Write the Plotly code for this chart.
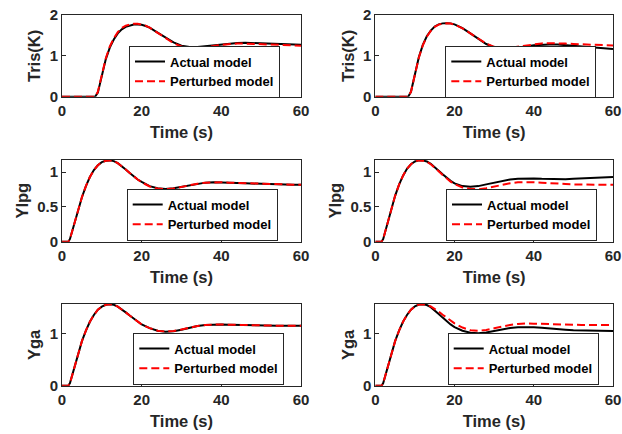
import plotly.graph_objects as go

# ---------------- data ----------------
t_tris = [0, 8.3, 9, 10, 11, 12, 13, 14, 15, 16, 17, 18, 19, 20, 21, 22, 24, 26, 28, 30,
          32, 34, 36, 38, 40, 42, 44, 46, 48, 50, 52, 54, 56, 58, 60]
t_y = [0, 1.6, 2, 3, 4, 5, 6, 7, 8, 9, 10, 11, 12, 13, 14, 15, 16, 17, 18, 19, 20,
       22, 24, 26, 28, 30, 32, 34, 36, 38, 40, 42, 44, 46, 48, 50, 52, 54, 56, 58, 60]

tris_act_L = [0, 0, 0.10, 0.48, 0.92, 1.20, 1.40, 1.55, 1.65, 1.71, 1.745, 1.765, 1.77, 1.76,
              1.73, 1.69, 1.57, 1.44, 1.33, 1.25, 1.215, 1.215, 1.235, 1.26, 1.285, 1.305,
              1.315, 1.32, 1.315, 1.305, 1.295, 1.285, 1.28, 1.275, 1.27]
tris_per_L = [0, 0, 0.12, 0.50, 0.94, 1.23, 1.43, 1.58, 1.68, 1.74, 1.77, 1.785, 1.785, 1.77,
              1.74, 1.69, 1.56, 1.42, 1.31, 1.23, 1.19, 1.19, 1.21, 1.24, 1.27, 1.29,
              1.30, 1.30, 1.295, 1.285, 1.275, 1.265, 1.26, 1.255, 1.25]
tris_act_R = [0, 0, 0.12, 0.52, 0.97, 1.27, 1.48, 1.62, 1.72, 1.77, 1.795, 1.80, 1.795, 1.77,
              1.73, 1.68, 1.55, 1.41, 1.29, 1.21, 1.175, 1.18, 1.20, 1.23, 1.26, 1.275,
              1.28, 1.28, 1.265, 1.245, 1.225, 1.21, 1.195, 1.18, 1.17]
tris_per_R = [0, 0, 0.12, 0.52, 0.96, 1.26, 1.47, 1.61, 1.71, 1.765, 1.79, 1.795, 1.79, 1.765,
              1.725, 1.675, 1.55, 1.415, 1.30, 1.22, 1.19, 1.195, 1.22, 1.255, 1.285, 1.305,
              1.31, 1.31, 1.30, 1.29, 1.28, 1.27, 1.265, 1.26, 1.255]

ylpg_act_L = [0, 0, 0.04, 0.25, 0.46, 0.64, 0.80, 0.93, 1.03, 1.10, 1.145, 1.165, 1.17, 1.16,
              1.13, 1.09, 1.04, 0.99, 0.94, 0.895, 0.86, 0.80, 0.77, 0.76, 0.77, 0.79, 0.815,
              0.835, 0.85, 0.855, 0.855, 0.85, 0.845, 0.84, 0.835, 0.83, 0.825, 0.825, 0.82,
              0.82, 0.82]
ylpg_per_L = [0, 0, 0.04, 0.25, 0.46, 0.64, 0.80, 0.93, 1.03, 1.10, 1.145, 1.165, 1.17, 1.16,
              1.13, 1.09, 1.04, 0.99, 0.94, 0.895, 0.855, 0.795, 0.765, 0.755, 0.765, 0.79,
              0.815, 0.835, 0.85, 0.855, 0.855, 0.85, 0.845, 0.84, 0.835, 0.83, 0.825, 0.82,
              0.82, 0.82, 0.82]
ylpg_act_R = [0, 0, 0.04, 0.26, 0.48, 0.66, 0.82, 0.95, 1.05, 1.115, 1.155, 1.17, 1.17, 1.155,
              1.12, 1.075, 1.02, 0.97, 0.92, 0.875, 0.84, 0.80, 0.79, 0.80, 0.825, 0.85, 0.875,
              0.895, 0.905, 0.91, 0.91, 0.905, 0.90, 0.90, 0.90, 0.905, 0.91, 0.915, 0.92,
              0.925, 0.93]
ylpg_per_R = [0, 0, 0.04, 0.26, 0.48, 0.66, 0.82, 0.95, 1.05, 1.115, 1.155, 1.17, 1.165, 1.15,
              1.115, 1.07, 1.015, 0.96, 0.91, 0.865, 0.83, 0.78, 0.76, 0.755, 0.77, 0.795,
              0.82, 0.84, 0.855, 0.86, 0.855, 0.85, 0.84, 0.835, 0.83, 0.825, 0.82, 0.82,
              0.82, 0.82, 0.82]

yga_act_L = [0, 0, 0.05, 0.32, 0.60, 0.85, 1.05, 1.22, 1.35, 1.45, 1.51, 1.545, 1.555, 1.545,
             1.51, 1.46, 1.40, 1.34, 1.28, 1.22, 1.17, 1.10, 1.05, 1.03, 1.04, 1.07, 1.11,
             1.14, 1.16, 1.17, 1.17, 1.165, 1.16, 1.155, 1.15, 1.145, 1.145, 1.145, 1.145,
             1.145, 1.145]
yga_per_L = [0, 0, 0.05, 0.32, 0.60, 0.85, 1.05, 1.22, 1.35, 1.45, 1.51, 1.545, 1.555, 1.545,
             1.51, 1.46, 1.40, 1.34, 1.28, 1.22, 1.17, 1.10, 1.05, 1.035, 1.045, 1.075, 1.11,
             1.14, 1.16, 1.17, 1.17, 1.165, 1.16, 1.155, 1.15, 1.145, 1.145, 1.145, 1.145,
             1.145, 1.145]
yga_act_R = [0, 0, 0.05, 0.32, 0.60, 0.85, 1.05, 1.22, 1.35, 1.45, 1.515, 1.55, 1.555, 1.54,
             1.50, 1.44, 1.37, 1.30, 1.23, 1.17, 1.12, 1.05, 1.01, 1.00, 1.015, 1.045, 1.075,
             1.10, 1.115, 1.12, 1.115, 1.105, 1.09, 1.08, 1.07, 1.06, 1.055, 1.05, 1.05,
             1.045, 1.045]
yga_per_R = [0, 0, 0.05, 0.32, 0.60, 0.85, 1.05, 1.22, 1.35, 1.45, 1.515, 1.55, 1.555, 1.545,
             1.515, 1.47, 1.415, 1.355, 1.295, 1.24, 1.19, 1.11, 1.06, 1.05, 1.065, 1.095,
             1.13, 1.16, 1.18, 1.19, 1.185, 1.18, 1.17, 1.165, 1.16, 1.16, 1.16, 1.16, 1.16,
             1.16, 1.16]

series_names = ["Actual model", "Perturbed model"]
x_ticks = [0, 20, 40, 60]
x_title = "Time (s)"
y_titles = ["Tris(K)", "Ylpg", "Yga"]
y_ranges = [[0, 2], [0, 1.18], [0, 1.56]]
y_ticks = [[0, 1, 2], [0, 0.5, 1], [0, 1]]

panels = [
    (t_tris, tris_act_L, tris_per_L), (t_tris, tris_act_R, tris_per_R),
    (t_y, ylpg_act_L, ylpg_per_L), (t_y, ylpg_act_R, ylpg_per_R),
    (t_y, yga_act_L, yga_per_L), (t_y, yga_act_R, yga_per_R),
]

# ---------------- layout geometry ----------------
W, H = 622, 434
x_dom = [[62 / W, 301 / W], [375.3 / W, 613 / W]]
y_dom_px = [(15, 96.7), (159.7, 241.7), (304, 385.7)]
y_dom = [[1 - b / H, 1 - t / H] for (t, b) in y_dom_px]
# legend: left edge (px) and bottom edge (px)
leg_pos = [(129, 97.5), (445.3, 97.5), (126.7, 240.5), (446, 240.5), (133.3, 384.5), (447.7, 384.5)]

FONT = "Liberation Sans, Arial, sans-serif"
TXT = "#262626"

fig = go.Figure()
layout = dict(width=W, height=H, margin=dict(l=0, r=0, t=0, b=0, autoexpand=False),
              paper_bgcolor="white", plot_bgcolor="white", showlegend=True)

for i, (t, a, p) in enumerate(panels):
    r, c = divmod(i, 2)
    n = i + 1
    xa = "x" if n == 1 else f"x{n}"
    ya = "y" if n == 1 else f"y{n}"
    lg = "legend" if n == 1 else f"legend{n}"
    fig.add_trace(go.Scatter(x=t, y=a, mode="lines", name=series_names[0],
                             line=dict(color="black", width=2),
                             xaxis=xa, yaxis=ya, legend=lg))
    fig.add_trace(go.Scatter(x=t, y=p, mode="lines", name=series_names[1],
                             line=dict(color="#ff0000", width=2, dash="8px,4px"),
                             xaxis=xa, yaxis=ya, legend=lg))
    axcommon = dict(showline=True, linecolor=TXT, linewidth=1, mirror=True,
                    ticks="inside", ticklen=4, tickcolor=TXT, showgrid=False,
                    zeroline=False, automargin=False,
                    tickfont=dict(family=FONT, size=15, color=TXT, weight="bold"))
    xname = "xaxis" if n == 1 else f"xaxis{n}"
    yname = "yaxis" if n == 1 else f"yaxis{n}"
    layout[xname] = dict(axcommon, domain=x_dom[c], range=[0, 60], tickvals=x_ticks,
                         anchor=ya,
                         title=dict(text=x_title, standoff=8,
                                    font=dict(family=FONT, size=16.5, color=TXT, weight="bold")))
    layout[yname] = dict(axcommon, domain=y_dom[r], range=y_ranges[r], tickvals=y_ticks[r],
                         anchor=xa,
                         title=dict(text=y_titles[r], standoff=4,
                                    font=dict(family=FONT, size=16.5, color=TXT, weight="bold")))
    lx, ly = leg_pos[i]
    layout[lg] = dict(x=lx / W, y=1 - ly / H, xanchor="left", yanchor="bottom",
                      xref="paper", yref="paper",
                      bgcolor="white", bordercolor=TXT, borderwidth=1,
                      font=dict(family=FONT, size=13, color="black", weight="bold"),
                      tracegroupgap=0, itemwidth=30)

fig.update_layout(**layout)
fig.write_html("out.html")
